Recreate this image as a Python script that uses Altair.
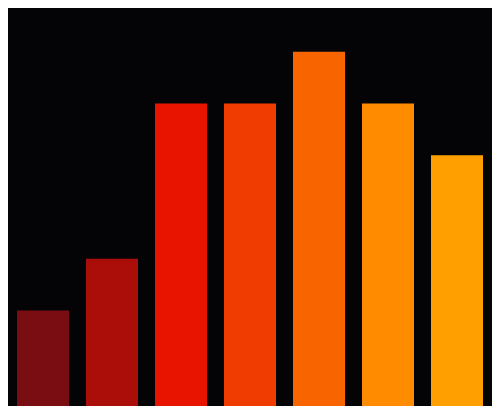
import altair as alt
import pandas as pd

categories = ["A", "B", "C", "D", "E", "F", "G"]
values = [2, 3, 6, 6, 7, 6, 5]
colors = ["#7a0d11", "#ab0e08", "#e81400", "#f03c00", "#f86400", "#ff8c00", "#ffa000"]

df = pd.DataFrame({"cat": categories, "value": values, "color": colors})

BG = "#040406"
PX_PER_UNIT = 51.75
H = 398
W = 484
vmin = 8 / PX_PER_UNIT
vmax = vmin + H / PX_PER_UNIT

chart = alt.Chart(df).mark_bar(clip=True).encode(
    x=alt.X("cat:N", sort=categories, axis=None,
            scale=alt.Scale(paddingInner=17 / 69, paddingOuter=9 / 69)),
    y=alt.Y("value:Q", axis=None,
            scale=alt.Scale(domain=[vmin, vmax], nice=False, zero=False)),
    y2=alt.datum(0),
    color=alt.Color("color:N", scale=None, legend=None),
).properties(
    width=W, height=H, padding=0, background=BG,
    autosize=alt.AutoSizeParams(type="none"),
).configure_view(stroke=None, fill=BG)

chart.save("out.html", embed_options={"renderer": "svg", "actions": False})
